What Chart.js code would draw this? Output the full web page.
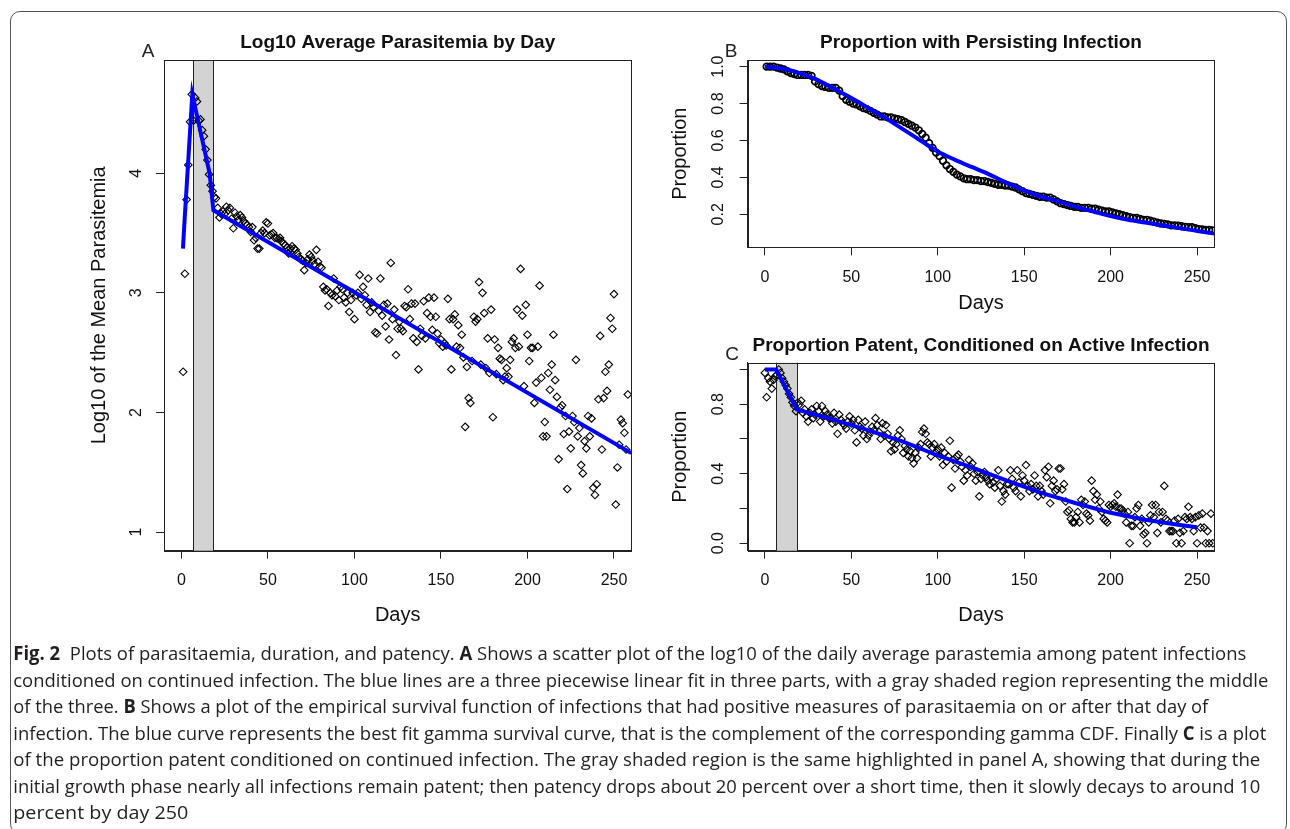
<!DOCTYPE html>
<html>
<head>
<meta charset="utf-8">
<script src="https://cdn.jsdelivr.net/npm/chart.js@4.4.1/dist/chart.umd.min.js"></script>
<style>
    html, body { margin: 0; padding: 0; background: #fff; }
    #fig { position: relative; width: 1290px; height: 829px; overflow: hidden; background: #fff; }
    #fig canvas { position: absolute; }
    .frame { position: absolute; left: 10px; top: 11px; width: 1277px; height: 823px;
        border: 1px solid #555; border-radius: 10px; box-sizing: border-box; }
    .tag { position: absolute; font: 19px 'Liberation Sans', Arial, sans-serif; color: #222;
        transform: translate(-50%, -50%); line-height: 1; }
    svg.caption { position: absolute; left: 0; top: 0; }
    svg.caption text { font-family: 'Open Sans', 'Noto Sans', sans-serif; font-size: 19px; fill: #231f20; }
</style>
</head>
<body>
<div id="fig">
    <div class="frame"></div>
    <canvas id="chartA" width="660" height="635" style="left:0;top:0"></canvas>
    <canvas id="chartB" width="630" height="320" style="left:660px;top:0"></canvas>
    <canvas id="chartC" width="630" height="315" style="left:660px;top:320px"></canvas>
    <div class="tag" style="left:148px;top:50px">A</div>
    <div class="tag" style="left:731px;top:50px">B</div>
    <div class="tag" style="left:732px;top:353px">C</div>
    <svg class="caption" width="1290" height="829">
        <text x="13.3" y="660" textLength="1233" lengthAdjust="spacingAndGlyphs"><tspan font-weight="bold">Fig. 2</tspan><tspan dx="5"> Plots of parasitaemia, duration, and patency. </tspan><tspan font-weight="bold">A</tspan> Shows a scatter plot of the log10 of the daily average parastemia among patent infections</text>
        <text x="13.3" y="686.5" textLength="1255" lengthAdjust="spacingAndGlyphs">conditioned on continued infection. The blue lines are a three piecewise linear fit in three parts, with a gray shaded region representing the middle</text>
        <text x="13.3" y="713" textLength="1195" lengthAdjust="spacingAndGlyphs">of the three. <tspan font-weight="bold">B</tspan> Shows a plot of the empirical survival function of infections that had positive measures of parasitaemia on or after that day of</text>
        <text x="13.3" y="739.5" textLength="1253" lengthAdjust="spacingAndGlyphs">infection. The blue curve represents the best fit gamma survival curve, that is the complement of the corresponding gamma CDF. Finally <tspan font-weight="bold">C</tspan> is a plot</text>
        <text x="13.3" y="766" textLength="1247" lengthAdjust="spacingAndGlyphs">of the proportion patent conditioned on continued infection. The gray shaded region is the same highlighted in panel A, showing that during the</text>
        <text x="13.3" y="792.5" textLength="1247" lengthAdjust="spacingAndGlyphs">initial growth phase nearly all infections remain patent; then patency drops about 20 percent over a short time, then it slowly decays to around 10</text>
        <text x="13.3" y="819" textLength="175" lengthAdjust="spacingAndGlyphs">percent by day 250</text>
    </svg>
</div>

<script>
// shared x axis
const X_TICKS = [0, 50, 100, 150, 200, 250];
const X_LABELS = ['0', '50', '100', '150', '200', '250'];
const SHADE_DAYS = [6.5, 18.5];

// panel A: log10 of mean parasitemia, one value per day starting at day 1
const A_FIRST_DAY = 1;
const A_VALUES = [
    2.34, 3.16, 3.78, 4.07, 4.43, 4.66, 4.44, 4.63, 4.60, 4.44,
    4.45, 4.36, 4.31, 4.20, 4.11, 3.99, 3.90, 3.85, 3.80, 3.79,
    3.71, 3.63, 3.66, 3.68, 3.66, 3.72, 3.69, 3.71, 3.62, 3.54,
    3.67, 3.64, 3.61, 3.65, 3.63, 3.60, 3.58, 3.57, 3.55, 3.51,
    3.55, 3.44, 3.46, 3.37, 3.37, 3.50, 3.52, 3.50, 3.59, 3.58,
    3.48, 3.49, 3.50, 3.46, 3.46, 3.45, 3.46, 3.43, 3.41, 3.40,
    3.38, 3.33, 3.37, 3.39, 3.37, 3.36, 3.33, 3.30, 3.28, 3.27,
    3.19, 3.25, 3.28, 3.32, 3.30, 3.27, 3.24, 3.36, 3.26, 3.22,
    3.21, 3.05, 3.02, 3.03, 2.89, 3.00, 2.98, 3.12, 2.97, 3.02,
    2.94, 3.05, 3.03, 2.96, 2.92, 3.00, 2.84, 2.94, 3.00, 2.78,
    2.98, 3.00, 3.15, 2.95, 3.05, 2.98, 2.90, 3.12, 2.84, 2.92,
    2.88, 2.67, 2.66, 2.85, 3.12, 2.81, 2.90, 2.72, 2.91, 2.61,
    3.25, 2.78, 2.86, 2.48, 2.70, 2.76, 2.70, 2.68, 2.89, 2.88,
    3.03, 2.78, 2.91, 2.62, 2.91, 2.59, 2.36, 2.70, 2.64, 2.93,
    2.62, 2.83, 2.96, 2.80, 2.69, 2.96, 2.80, 2.66, 2.58, 2.61,
    2.55, 2.58, 2.56, 2.95, 2.78, 2.36, 2.78, 2.82, 2.55, 2.73,
    2.54, 2.65, 2.46, 1.88, 2.38, 2.12, 2.08, 2.43, 2.80, 2.76,
    2.78, 3.09, 2.40, 3.00, 2.83, 2.37, 2.62, 2.33, 2.86, 1.96,
    2.61, 2.32, 2.54, 2.45, 2.44, 2.27, 2.30, 2.37, 2.30, 2.44,
    2.59, 2.62, 2.54, 2.86, 2.55, 3.20, 2.81, 2.22, 2.90, 2.65,
    2.43, 2.54, 2.54, 2.08, 2.25, 2.55, 3.06, 2.29, 1.80, 1.92,
    1.80, 2.33, 2.19, 2.40, 2.65, 2.27, 2.13, 1.61, 2.04, 2.06,
    1.82, 1.97, 1.36, 1.84, 1.70, 1.97, 1.92, 2.44, 1.80, 1.87,
    1.56, 1.49, 1.76, 1.70, 1.97, 1.80, 1.95, 1.37, 1.31, 1.40,
    2.11, 2.64, 1.69, 2.12, 2.34, 2.18, 2.40, 2.79, 2.70, 2.99,
    1.23, 1.54, 1.73, 1.94, 1.91, 1.83, 1.69, 2.15
];
const A_FIT_DAYS = [0.9, 1.6, 6.3, 16.3, 18.5, 260];
const A_FIT = [3.37, 3.55, 4.66, 4.00, 3.69, 1.66];
const A_Y_TICKS = [1, 2, 3, 4];
const A_Y_LABELS = ['1', '2', '3', '4'];

// panel B: empirical survival, every second day from day 1
const B_FIRST_DAY = 1;
const B_DAY_STEP = 2;
const B_VALUES = [
    1.0, 1.0, 1.0, 0.995, 0.99, 0.985, 0.975, 0.965, 0.96, 0.955,
    0.955, 0.955, 0.955, 0.95, 0.92, 0.905, 0.895, 0.89, 0.885, 0.885,
    0.885, 0.87, 0.84, 0.82, 0.81, 0.80, 0.795, 0.785, 0.775, 0.77,
    0.76, 0.75, 0.74, 0.73, 0.73, 0.725, 0.725, 0.72, 0.715, 0.71,
    0.70, 0.69, 0.68, 0.67, 0.655, 0.635, 0.615, 0.585, 0.56, 0.535,
    0.515, 0.49, 0.465, 0.445, 0.43, 0.415, 0.405, 0.395, 0.39, 0.39,
    0.385, 0.385, 0.38, 0.38, 0.375, 0.37, 0.365, 0.36, 0.36, 0.355,
    0.355, 0.35, 0.345, 0.335, 0.325, 0.315, 0.31, 0.305, 0.30, 0.295,
    0.295, 0.29, 0.29, 0.28, 0.27, 0.26, 0.255, 0.25, 0.245, 0.24,
    0.24, 0.235, 0.235, 0.235, 0.23, 0.23, 0.225, 0.22, 0.215, 0.215,
    0.21, 0.205, 0.20, 0.195, 0.19, 0.185, 0.18, 0.18, 0.175, 0.17,
    0.17, 0.165, 0.16, 0.155, 0.15, 0.148, 0.145, 0.14, 0.14, 0.138,
    0.135, 0.132, 0.13, 0.13, 0.125, 0.12, 0.118, 0.115, 0.115, 0.112
];
const B_FIT_DAYS = [0, 10, 20, 30, 40, 50, 60, 70, 80, 90, 100, 110, 120, 130,
    140, 150, 160, 170, 180, 190, 200, 210, 220, 230, 240, 250, 260];
const B_FIT = [1.0, 0.99, 0.965, 0.93, 0.88, 0.83, 0.775, 0.72, 0.66, 0.60, 0.54, 0.495, 0.455, 0.415,
    0.37, 0.33, 0.295, 0.27, 0.24, 0.215, 0.19, 0.17, 0.155, 0.14, 0.125, 0.11, 0.095];
const B_Y_TICKS = [0.2, 0.4, 0.6, 0.8, 1.0];
const B_Y_LABELS = ['0.2', '0.4', '0.6', '0.8', '1.0'];

// panel C: proportion patent, one value per day starting at day 0
const C_FIRST_DAY = 0;
const C_VALUES = [
    0.98, 0.84, 0.95, 0.93, 0.89, 0.94, 0.96, 0.97, 1.00, 0.98,
    0.95, 0.93, 0.91, 0.89, 0.86, 0.84, 0.81, 0.79, 0.76, 0.81,
    0.80, 0.82, 0.75, 0.77, 0.73, 0.70, 0.75, 0.77, 0.72, 0.74,
    0.79, 0.76, 0.70, 0.79, 0.73, 0.76, 0.74, 0.72, 0.72, 0.69,
    0.75, 0.70, 0.63, 0.74, 0.71, 0.69, 0.68, 0.66, 0.70, 0.73,
    0.69, 0.71, 0.65, 0.58, 0.71, 0.67, 0.66, 0.62, 0.70, 0.60,
    0.62, 0.64, 0.67, 0.65, 0.72, 0.68, 0.64, 0.60, 0.69, 0.62,
    0.68, 0.63, 0.60, 0.53, 0.58, 0.54, 0.57, 0.62, 0.65, 0.60,
    0.52, 0.56, 0.54, 0.50, 0.53, 0.49, 0.46, 0.52, 0.49, 0.55,
    0.57, 0.64, 0.66, 0.63, 0.58, 0.57, 0.50, 0.55, 0.57, 0.52,
    0.54, 0.50, 0.55, 0.45, 0.52, 0.47, 0.50, 0.59, 0.32, 0.48,
    0.43, 0.50, 0.51, 0.47, 0.44, 0.36, 0.42, 0.39, 0.48, 0.44,
    0.46, 0.40, 0.36, 0.41, 0.27, 0.37, 0.39, 0.41, 0.38, 0.36,
    0.34, 0.38, 0.35, 0.32, 0.37, 0.42, 0.33, 0.24, 0.30, 0.28,
    0.34, 0.34, 0.42, 0.37, 0.32, 0.30, 0.42, 0.35, 0.27, 0.39,
    0.36, 0.45, 0.33, 0.30, 0.34, 0.31, 0.39, 0.33, 0.27, 0.33,
    0.30, 0.28, 0.42, 0.38, 0.44, 0.23, 0.33, 0.36, 0.30, 0.31,
    0.43, 0.43, 0.31, 0.34, 0.24, 0.18, 0.19, 0.14, 0.12, 0.12,
    0.15, 0.18, 0.12, 0.25, 0.22, 0.24, 0.17, 0.16, 0.13, 0.36,
    0.30, 0.25, 0.28, 0.20, 0.24, 0.18, 0.14, 0.13, 0.12, 0.22,
    0.21, 0.22, 0.23, 0.21, 0.28, 0.20, 0.20, 0.19, 0.17, 0.12,
    0.18, 0.00, 0.10, 0.10, 0.15, 0.20, 0.22, 0.10, 0.14, 0.05,
    0.06, 0.00, 0.12, 0.16, 0.22, 0.15, 0.22, 0.06, 0.18, 0.12,
    0.18, 0.33, 0.14, 0.13, 0.07, 0.07, 0.07, 0.13, 0.00, 0.14,
    0.06, 0.00, 0.07, 0.15, 0.14, 0.21, 0.15, 0.14, 0.07, 0.15,
    0.00, 0.16, 0.09, 0.17, 0.09, 0.00, 0.07, 0.00, 0.17, 0.00
];
const C_FIT_DAYS = [0, 6.5, 18.5, 40, 60, 80, 100, 120, 140, 160, 180, 200, 220, 240, 250];
const C_FIT = [1.0, 1.0, 0.77, 0.71, 0.65, 0.585, 0.505, 0.435, 0.36, 0.29, 0.23, 0.175, 0.135, 0.105, 0.092];
const C_Y_TICKS = [0, 0.2, 0.4, 0.6, 0.8, 1.0];
const C_Y_LABELS = ['0.0', '', '0.4', '', '0.8', ''];

const FONT = "'Liberation Sans', Arial, Helvetica, sans-serif";
const INK = '#111';
const BOX = '#222';
const FIT_BLUE = '#0000ff';

Chart.defaults.font.family = FONT;
Chart.defaults.color = INK;

// gray band + box round the plot region, like base R graphics
const plotFrame = {
    id: 'plotFrame',
    beforeDatasetsDraw(chart, args, opts) {
        const ctx = chart.ctx;
        const area = chart.chartArea;
        if (opts.shade) {
            const x = chart.scales.x;
            const x0 = Math.round(x.getPixelForValue(opts.shade[0])) + 0.5;
            const x1 = Math.round(x.getPixelForValue(opts.shade[1])) + 0.5;
            ctx.save();
            ctx.fillStyle = '#d3d3d3';
            ctx.fillRect(x0, area.top, x1 - x0, area.bottom - area.top);
            ctx.strokeStyle = BOX;
            ctx.lineWidth = 1;
            ctx.beginPath();
            ctx.moveTo(x0, area.top);
            ctx.lineTo(x0, area.bottom);
            ctx.moveTo(x1, area.top);
            ctx.lineTo(x1, area.bottom);
            ctx.stroke();
            ctx.restore();
        }
    },
    afterDatasetsDraw(chart) {
        const ctx = chart.ctx;
        const a = chart.chartArea;
        ctx.save();
        ctx.strokeStyle = BOX;
        ctx.lineWidth = 1;
        const l = Math.round(a.left) + 0.5, t = Math.round(a.top) + 0.5;
        const r = Math.round(a.right) + 0.5, b = Math.round(a.bottom) + 0.5;
        ctx.strokeRect(l, t, r - l, b - t);
        ctx.restore();
    }
};

function toPoints(xs, ys) {
    return ys.map(function (v, i) { return { x: xs[i], y: v }; });
}

function dailyPoints(firstDay, step, values) {
    return values.map(function (v, i) { return { x: firstDay + i * step, y: v }; });
}

// g = geometry of one panel, all in canvas pixels
function makePanel(canvasId, g) {
    const ctx = document.getElementById(canvasId).getContext('2d');
    return new Chart(ctx, {
        type: 'scatter',
        data: {
            datasets: [
                {
                    data: g.points,
                    pointStyle: g.pointStyle,
                    pointRadius: g.pointRadius,
                    borderColor: '#000',
                    backgroundColor: 'rgba(0,0,0,0)',
                    pointBorderWidth: g.pointWidth,
                    order: 2,
                },
                {
                    type: 'line',
                    data: g.fit,
                    borderColor: FIT_BLUE,
                    borderWidth: 4,
                    pointRadius: 0,
                    fill: false,
                    tension: g.smooth ? 0.4 : 0,
                    cubicInterpolationMode: g.smooth ? 'monotone' : 'default',
                    order: 1,
                },
            ],
        },
        options: {
            responsive: false,
            animation: false,
            devicePixelRatio: 1,
            events: [],
            layout: { padding: { left: 0, top: 0, bottom: 0, right: g.padRight } },
            plugins: {
                legend: { display: false },
                tooltip: { enabled: false },
                title: {
                    display: true,
                    text: g.title,
                    fullSize: false,
                    color: INK,
                    font: { size: 19, weight: 'bold' },
                    padding: { top: g.titleTop, bottom: g.titleBottom },
                },
                plotFrame: { shade: g.shade },
            },
            scales: {
                x: {
                    type: 'linear',
                    min: -10,
                    max: 260,
                    afterBuildTicks: function (scale) {
                        scale.ticks = X_TICKS.map(function (v) { return { value: v }; });
                    },
                    afterFit: function (scale) { scale.height = g.xHeight; },
                    grid: { drawOnChartArea: false, drawTicks: true, tickLength: 8, tickColor: BOX },
                    border: { display: true, color: BOX },
                    ticks: {
                        autoSkip: false,
                        maxRotation: 0,
                        padding: 12.5,
                        color: INK,
                        font: { size: 16 },
                        callback: function (v, i) { return X_LABELS[i]; },
                    },
                    title: {
                        display: true,
                        text: 'Days',
                        color: INK,
                        font: { size: 20 },
                        padding: { top: 0, bottom: g.daysBottom },
                    },
                },
                y: {
                    type: 'linear',
                    min: g.yMin,
                    max: g.yMax,
                    afterBuildTicks: function (scale) {
                        scale.ticks = g.yTicks.map(function (v) { return { value: v }; });
                    },
                    afterFit: function (scale) { scale.width = g.yWidth; },
                    grid: { drawOnChartArea: false, drawTicks: true, tickLength: 8, tickColor: BOX },
                    border: { display: true, color: BOX },
                    ticks: {
                        autoSkip: false,
                        minRotation: 90,
                        maxRotation: 90,
                        crossAlign: 'center',
                        padding: g.yLabelPad,
                        color: INK,
                        font: { size: 16 },
                        callback: function (v, i) { return g.yLabels[i]; },
                    },
                    title: {
                        display: true,
                        text: g.yTitle,
                        color: INK,
                        font: { size: 20 },
                        padding: { top: g.yTitlePad, bottom: 0 },
                    },
                },
            },
        },
        plugins: [plotFrame],
    });
}

makePanel('chartA', {
    title: 'Log10 Average Parasitemia by Day',
    yTitle: 'Log10 of the Mean Parasitemia',
    points: dailyPoints(A_FIRST_DAY, 1, A_VALUES),
    fit: toPoints(A_FIT_DAYS, A_FIT),
    pointStyle: 'rectRot',
    pointRadius: 3.8,
    pointWidth: 1.1,
    smooth: false,
    shade: SHADE_DAYS,
    yMin: 0.844, yMax: 4.947,
    yTicks: A_Y_TICKS, yLabels: A_Y_LABELS,
    padRight: 28.7, yWidth: 164.1, xHeight: 84.3,
    titleTop: 31.6, titleBottom: 5.6,
    daysBottom: 8, yTitlePad: 87, yLabelPad: 14.8,
});

makePanel('chartB', {
    title: 'Proportion with Persisting Infection',
    yTitle: 'Proportion',
    points: dailyPoints(B_FIRST_DAY, B_DAY_STEP, B_VALUES),
    fit: toPoints(B_FIT_DAYS, B_FIT),
    pointStyle: 'circle',
    pointRadius: 3.3,
    pointWidth: 1.7,
    smooth: true,
    shade: null,
    yMin: 0.021, yMax: 1.036,
    yTicks: B_Y_TICKS, yLabels: B_Y_LABELS,
    padRight: 75.6, yWidth: 87.6, xHeight: 72.7,
    titleTop: 31.6, titleBottom: 5.6,
    daysBottom: 5, yTitlePad: 8, yLabelPad: 10.2,
});

makePanel('chartC', {
    title: 'Proportion Patent, Conditioned on Active Infection',
    yTitle: 'Proportion',
    points: dailyPoints(C_FIRST_DAY, 1, C_VALUES),
    fit: toPoints(C_FIT_DAYS, C_FIT),
    pointStyle: 'rectRot',
    pointRadius: 3.8,
    pointWidth: 1.1,
    smooth: false,
    shade: SHADE_DAYS,
    yMin: -0.043, yMax: 1.039,
    yTicks: C_Y_TICKS, yLabels: C_Y_LABELS,
    padRight: 75.6, yWidth: 87.6, xHeight: 84.3,
    titleTop: 14.6, titleBottom: 5.3,
    daysBottom: 8, yTitlePad: 8, yLabelPad: 10.2,
});
</script>
</body>
</html>
